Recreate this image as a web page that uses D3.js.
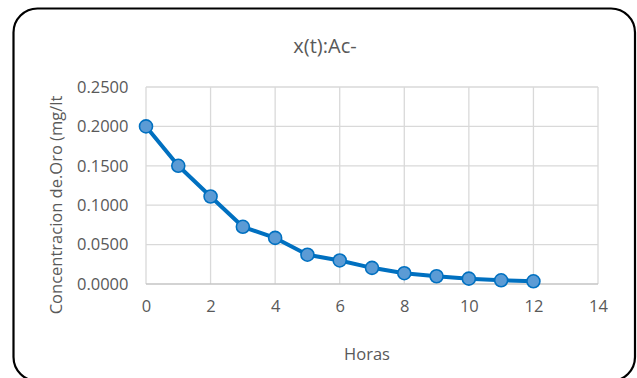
<!DOCTYPE html>
<html><head><meta charset="utf-8">
<script src="https://cdn.jsdelivr.net/npm/d3@7"></script>
<style>html,body{margin:0;padding:0;background:#fff;overflow:hidden}</style>
</head><body>
<svg id="c" width="637" height="378"></svg>
<script>
const hours = [0,1,2,3,4,5,6,7,8,9,10,11,12];
const concentration = [0.2000,0.1500,0.1110,0.0726,0.0585,0.0372,0.0299,0.0205,0.0137,0.0098,0.0068,0.0047,0.0034];
const xTicks = [0,2,4,6,8,10,12,14];
const yTicks = [0,0.05,0.10,0.15,0.20,0.25];
const title = "x(t):Ac-";
const xTitle = "Horas";
const yTitle = "Concentracion de.Oro (mg/lt";

const svg = d3.select("#c");
const font = "'Open Sans', Lato, sans-serif";
svg.append("rect").attr("x",13.5).attr("y",8.5).attr("width",621.5).attr("height",372.5)
  .attr("rx",24).attr("fill","#fff").attr("stroke","#000").attr("stroke-width",2.2);

const x = d3.scaleLinear().domain([0,14]).range([146,598]);
const y = d3.scaleLinear().domain([0,0.25]).range([284,87]);

const g = svg.append("g");
g.selectAll(".vg").data(xTicks).join("line")
  .attr("x1",d=>x(d)).attr("x2",d=>x(d)).attr("y1",y(0.25)).attr("y2",y(0))
  .attr("stroke","#d9d9d9").attr("stroke-width",1.3);
g.selectAll(".hg").data(yTicks).join("line")
  .attr("x1",x(0)).attr("x2",x(14)).attr("y1",d=>y(d)).attr("y2",d=>y(d))
  .attr("stroke",d=>d===0?"#c4c4c4":"#d9d9d9").attr("stroke-width",1.3);

const xAxis = svg.append("g").attr("transform",`translate(0,${y(0)})`)
  .call(d3.axisBottom(x).tickValues(xTicks).tickSize(0).tickPadding(16).tickFormat(d3.format("d")));
const yAxis = svg.append("g").attr("transform",`translate(${x(0)},0)`)
  .call(d3.axisLeft(y).tickValues(yTicks).tickSize(0).tickPadding(17.5).tickFormat(d3.format(".4f")));
[xAxis,yAxis].forEach(a=>{
  a.select(".domain").remove();
  a.selectAll("text").attr("fill","#595959").style("font-family",font).style("font-size","16.5px");
});

svg.append("path").datum(hours.map((h,i)=>[h,concentration[i]]))
  .attr("fill","none").attr("stroke","#0070C0").attr("stroke-width",4).attr("stroke-linejoin","round")
  .attr("d",d3.line().x(d=>x(d[0])).y(d=>y(d[1])));
svg.selectAll(".m").data(hours.map((h,i)=>[h,concentration[i]])).join("circle")
  .attr("cx",d=>x(d[0])).attr("cy",d=>y(d[1])).attr("r",6.5)
  .attr("fill","#5B9BD5").attr("stroke","#0070C0").attr("stroke-width",1.6);

svg.append("text").attr("x",325).attr("y",52.5).attr("text-anchor","middle")
  .attr("fill","#595959").style("font-family",font).style("font-size","20px").text(title);
svg.append("text").attr("x",367).attr("y",360).attr("text-anchor","middle")
  .attr("fill","#595959").style("font-family",font).style("font-size","16.5px").text(xTitle);
svg.append("text").attr("transform","translate(62,205) rotate(-90)").attr("text-anchor","middle")
  .attr("fill","#595959").style("font-family",font).style("font-size","16.5px").text(yTitle);
</script>
</body></html>
